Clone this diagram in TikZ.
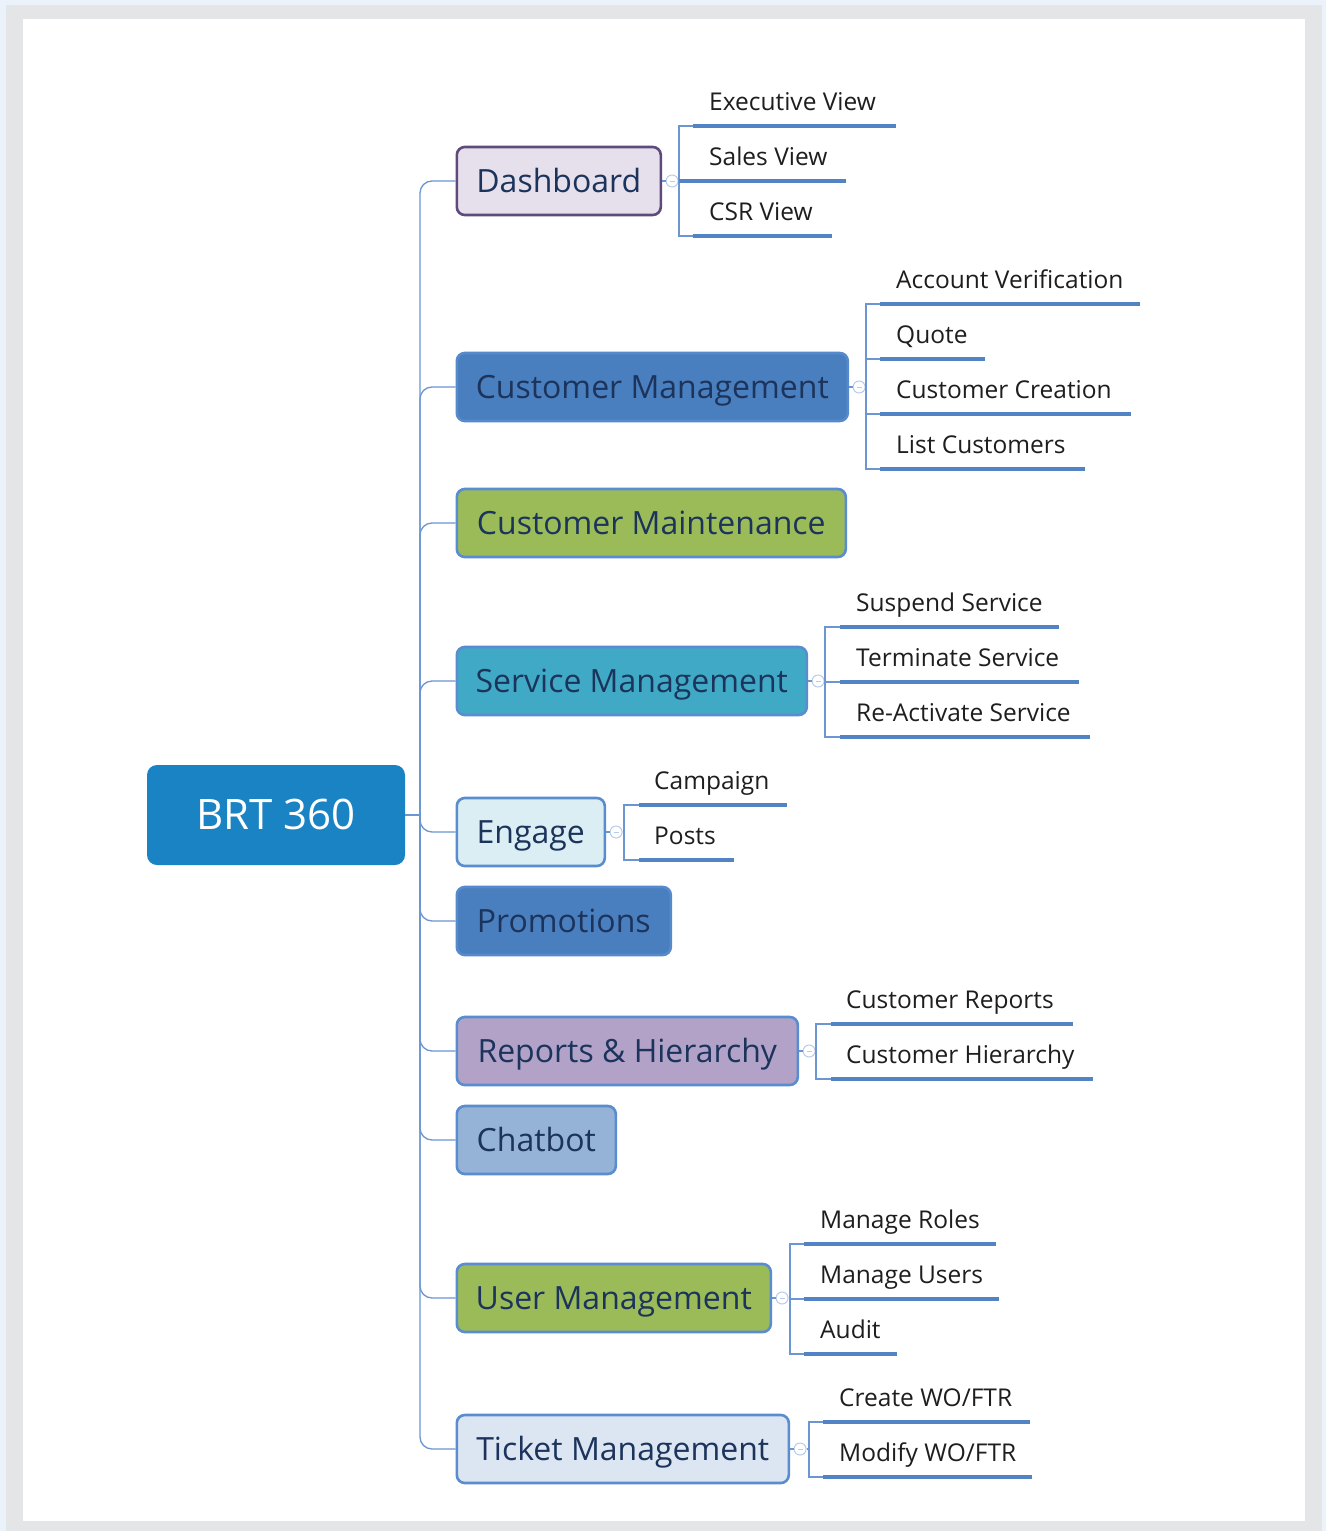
\documentclass[tikz,border=0pt]{standalone}
\usepackage{fontspec}
\setmainfont{Open Sans}
\begin{document}
\definecolor{pageblue}{RGB}{235,242,250}
\definecolor{framegrey}{RGB}{228,229,231}
\definecolor{linkblue}{RGB}{108,150,210}
\definecolor{ulblue}{RGB}{82,131,196}
\definecolor{edgeblue}{RGB}{90,140,208}
\definecolor{navytext}{RGB}{28,52,92}
\definecolor{leaftext}{RGB}{30,30,30}
\definecolor{rootfill}{RGB}{26,131,196}
\definecolor{dashfill}{RGB}{230,224,236}
\definecolor{dashedge}{RGB}{96,74,123}
\definecolor{midblue}{RGB}{74,127,191}
\definecolor{midblueedge}{RGB}{86,138,204}
\definecolor{leafgreen}{RGB}{155,187,89}
\definecolor{teal}{RGB}{64,170,198}
\definecolor{paleaqua}{RGB}{218,238,243}
\definecolor{lilac}{RGB}{178,162,199}
\definecolor{skyblue}{RGB}{149,179,215}
\definecolor{paleblue}{RGB}{220,230,242}
\definecolor{knobedge}{RGB}{184,203,232}
\begin{tikzpicture}[x=1pt,y=-1pt,
  topic/.style={draw=edgeblue, line width=2.6pt, rounded corners=8pt,
    minimum height=68pt, anchor=west, inner xsep=0pt, inner ysep=0pt,
    text=navytext, font=\fontsize{32}{38}\selectfont,
    text height=23pt, text depth=0pt},
  leaf/.style={anchor=base west, inner sep=0pt, text=leaftext,
    font=\fontsize{24.5}{29}\selectfont},
  trunk/.style={draw=linkblue, line width=1.3pt, rounded corners=12pt},
  twig/.style={draw=linkblue, line width=1.1pt},
  uline/.style={draw=ulblue, line width=4pt},
  knob/.style={circle, draw=knobedge, fill=white, line width=1pt,
    minimum size=12pt, inner sep=0pt,
    path picture={\draw[knobedge, line width=1pt]
      ([xshift=-2.5pt]path picture bounding box.center) --
      ([xshift=2.5pt]path picture bounding box.center);}}
]
% page frame
\useasboundingbox (0,0) rectangle (1326,1531);
\fill[pageblue] (0,0) rectangle (1326,1531);
\fill[framegrey] (6,5) rectangle (1322,1531);
\fill[white] (23,19) rectangle (1305,1521);

% central topic
\node[fill=rootfill, rounded corners=10pt, minimum width=258pt, minimum height=100pt,
  text=white, font=\fontsize{42}{50}\selectfont, text height=29pt, text depth=0pt]
  (root) at (276,815) {BRT 360};
\coordinate (hub) at (420,815);
\draw[trunk] (root.east) -- (hub);

% main topics
\node[topic, draw=dashedge, fill=dashfill, minimum width=204pt] (dash) at (455.5,181) {Dashboard};
\node[topic, draw=midblueedge, fill=midblue, minimum width=391pt] (cmgmt) at (455.5,387) {Customer Management};
\node[topic, fill=leafgreen, minimum width=389pt] (cmaint) at (455.5,523) {Customer Maintenance};
\node[topic, fill=teal, minimum width=350pt] (smgmt) at (455.5,681) {Service Management};
\node[topic, fill=paleaqua, minimum width=148pt] (engage) at (455.5,832) {Engage};
\node[topic, draw=midblueedge, fill=midblue, minimum width=214pt] (promo) at (455.5,921) {Promotions};
\node[topic, fill=lilac, minimum width=341pt] (reports) at (455.5,1051) {Reports \& Hierarchy};
\node[topic, fill=skyblue, minimum width=159pt] (chat) at (455.5,1140) {Chatbot};
\node[topic, fill=leafgreen, minimum width=314pt] (umgmt) at (455.5,1298) {User Management};
\node[topic, fill=paleblue, minimum width=332pt] (tmgmt) at (455.5,1449) {Ticket Management};

% branches from the hub
\foreach \t in {dash,cmgmt,cmaint,smgmt,engage,promo,reports,chat,umgmt,tmgmt}{
  \draw[trunk] (hub) -- (hub |- \t.west) -- (\t.west);
}

% Dashboard subtopics
\node[knob] (dashk) at ([xshift=10pt]dash.east) {};
\draw[twig] (dash.east) -- (dashk.west);
\draw[twig] (dashk.east) -- (679,181);
\draw[twig] (693,126) -- (679,126) -- (679,236) -- (693,236);
\draw[uline] (693,126) -- (896,126);
\draw[uline] (679,181) -- (693,181) (693,181) -- (846,181);
\draw[uline] (693,236) -- (832,236);
\node[leaf] (ev) at (709,110) {Executive View};
\node[leaf] (sv) at (709,165) {Sales View};
\node[leaf] (csr) at (709,220) {CSR View};

% Customer Management subtopics
\node[knob] (cmgmtk) at ([xshift=10pt]cmgmt.east) {};
\draw[twig] (cmgmt.east) -- (cmgmtk.west);
\draw[twig] (cmgmtk.east) -- (866,387);
\draw[twig] (880,304) -- (866,304) -- (866,469) -- (880,469);
\draw[twig] (866,359) -- (880,359) (866,414) -- (880,414);
\draw[uline] (880,304) -- (1140,304);
\draw[uline] (880,359) -- (985,359);
\draw[uline] (880,414) -- (1131,414);
\draw[uline] (880,469) -- (1085,469);
\node[leaf] (av) at (896,288) {Account Verification};
\node[leaf] (qt) at (896,343) {Quote};
\node[leaf] (cc) at (896,398) {Customer Creation};
\node[leaf] (lc) at (896,453) {List Customers};

% Service Management subtopics
\node[knob] (smgmtk) at ([xshift=10pt]smgmt.east) {};
\draw[twig] (smgmt.east) -- (smgmtk.west);
\draw[twig] (smgmtk.east) -- (825,681);
\draw[twig] (840,627) -- (825,627) -- (825,737) -- (840,737);
\draw[twig] (825,682) -- (840,682);
\draw[uline] (840,627) -- (1059,627);
\draw[uline] (840,682) -- (1079,682);
\draw[uline] (840,737) -- (1090,737);
\node[leaf] (ss) at (856,611) {Suspend Service};
\node[leaf] (ts) at (856,666) {Terminate Service};
\node[leaf] (rs) at (856,721) {Re-Activate Service};

% Engage subtopics
\node[knob] (engagek) at ([xshift=10pt]engage.east) {};
\draw[twig] (engage.east) -- (engagek.west);
\draw[twig] (engagek.east) -- (624,832);
\draw[twig] (639,805) -- (624,805) -- (624,860) -- (639,860);
\draw[uline] (639,805) -- (787,805);
\draw[uline] (639,860) -- (734,860);
\node[leaf] (cp) at (654,789) {Campaign};
\node[leaf] (po) at (654,844) {Posts};

% Reports & Hierarchy subtopics
\node[knob] (reportsk) at ([xshift=10pt]reports.east) {};
\draw[twig] (reports.east) -- (reportsk.west);
\draw[twig] (reportsk.east) -- (816,1051);
\draw[twig] (831,1024) -- (816,1024) -- (816,1079) -- (831,1079);
\draw[uline] (831,1024) -- (1073,1024);
\draw[uline] (831,1079) -- (1093,1079);
\node[leaf] (cr) at (846,1008) {Customer Reports};
\node[leaf] (ch) at (846,1063) {Customer Hierarchy};

% User Management subtopics
\node[knob] (umgmtk) at ([xshift=10pt]umgmt.east) {};
\draw[twig] (umgmt.east) -- (umgmtk.west);
\draw[twig] (umgmtk.east) -- (790,1298);
\draw[twig] (804,1244) -- (790,1244) -- (790,1354) -- (804,1354);
\draw[twig] (790,1299) -- (804,1299);
\draw[uline] (804,1244) -- (996,1244);
\draw[uline] (804,1299) -- (999,1299);
\draw[uline] (804,1354) -- (897,1354);
\node[leaf] (mr) at (820,1228) {Manage Roles};
\node[leaf] (mu) at (820,1283) {Manage Users};
\node[leaf] (au) at (820,1338) {Audit};

% Ticket Management subtopics
\node[knob] (tmgmtk) at ([xshift=10pt]tmgmt.east) {};
\draw[twig] (tmgmt.east) -- (tmgmtk.west);
\draw[twig] (tmgmtk.east) -- (809,1449);
\draw[twig] (823,1422) -- (809,1422) -- (809,1477) -- (823,1477);
\draw[uline] (823,1422) -- (1030,1422);
\draw[uline] (823,1477) -- (1032,1477);
\node[leaf] (cw) at (839,1406) {Create WO/FTR};
\node[leaf] (mw) at (839,1461) {Modify WO/FTR};
\end{tikzpicture}
\end{document}
